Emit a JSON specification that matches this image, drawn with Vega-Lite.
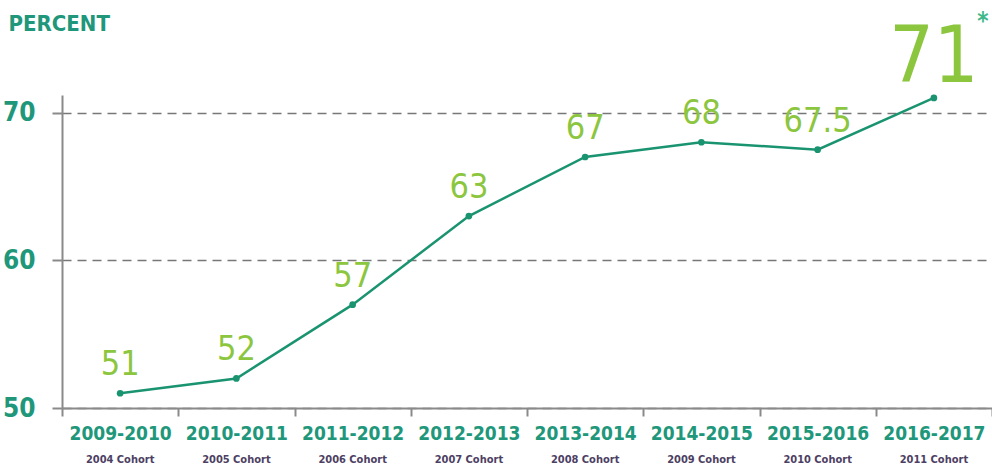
{
  "$schema": "https://vega.github.io/schema/vega-lite/v6.json",
  "width": 930,
  "height": 313,
  "autosize": {"type": "none"},
  "padding": {"left": 62, "top": 95, "right": 0, "bottom": 61},
  "background": "white",
  "config": {
    "view": {"stroke": null},
    "font": "DejaVu Sans Condensed, Roboto Condensed, Roboto, sans-serif"
  },
  "data": {
    "values": [
      {"key": "2009-2010|2004 Cohort", "value": 51},
      {"key": "2010-2011|2005 Cohort", "value": 52},
      {"key": "2011-2012|2006 Cohort", "value": 57},
      {"key": "2012-2013|2007 Cohort", "value": 63},
      {"key": "2013-2014|2008 Cohort", "value": 67},
      {"key": "2014-2015|2009 Cohort", "value": 68},
      {"key": "2015-2016|2010 Cohort", "value": 67.5},
      {"key": "2016-2017|2011 Cohort", "value": 71}
    ]
  },
  "resolve": {"axis": {"x": "independent"}},
  "layer": [
    {
      "mark": {"type": "line", "color": "#1a9470", "strokeWidth": 2.5, "point": {"filled": true, "size": 45, "color": "#1a9470"}},
      "encoding": {
        "x": {
          "field": "key", "type": "nominal", "sort": null,
          "scale": {"paddingInner": 0, "paddingOuter": 0},
          "axis": {
            "orient": "bottom",
            "title": null,
            "labelExpr": "split(datum.label, '|')[0]",
            "labelAngle": 0,
            "labelFont": "DejaVu Sans Condensed, Roboto Condensed, Roboto, sans-serif",
            "labelFontWeight": "bold",
            "labelFontSize": 19,
            "labelColor": "#20977a",
            "labelPadding": 8,
            "domainColor": "#8a8a8a",
            "domainWidth": 2,
            "tickBand": "extent",
            "tickColor": "#8a8a8a",
            "tickWidth": 2,
            "tickSize": 8
          }
        },
        "y": {
          "field": "value", "type": "quantitative",
          "scale": {"domain": [50, 71.2], "nice": false, "zero": false},
          "axis": {
            "values": [50, 60, 70],
            "title": "PERCENT",
            "titleAngle": 0,
            "titleAlign": "left",
            "titleBaseline": "alphabetic",
            "titleX": -54,
            "titleY": -65,
            "titleFont": "DejaVu Sans Condensed, Roboto Condensed, Roboto, sans-serif",
            "titleFontWeight": "bold",
            "titleFontSize": 22,
            "titleColor": "#20977a",
            "labelFont": "DejaVu Sans Condensed, Roboto Condensed, Roboto, sans-serif",
            "labelFontWeight": "bold",
            "labelFontSize": 26,
            "labelColor": "#20977a",
            "labelPadding": 17,
            "domainColor": "#8a8a8a",
            "domainWidth": 2,
            "tickColor": "#8a8a8a",
            "tickWidth": 2,
            "tickSize": 10,
            "grid": true,
            "gridColor": "#777777",
            "gridDash": [9, 6],
            "gridWidth": 1.5
          }
        }
      }
    },
    {
      "transform": [{"filter": "datum.value < 71"}],
      "mark": {"type": "text", "font": "DejaVu Sans Condensed, Roboto Condensed, Roboto, sans-serif", "fontSize": 34, "color": "#8cc63f", "baseline": "alphabetic", "dy": -18},
      "encoding": {
        "x": {
          "field": "key", "type": "nominal", "sort": null,
          "axis": {
            "orient": "bottom",
            "title": null,
            "labelExpr": "split(datum.label, '|')[1]",
            "labelAngle": 0,
            "labelFont": "DejaVu Sans Condensed, Roboto Condensed, Roboto, sans-serif",
            "labelFontWeight": "bold",
            "labelFontSize": 11,
            "labelColor": "#4d3f63",
            "labelPadding": 45,
            "domain": false,
            "ticks": false
          }
        },
        "y": {"field": "value", "type": "quantitative"},
        "text": {"field": "value", "type": "quantitative"}
      }
    },
    {
      "transform": [{"filter": "datum.value >= 71"}],
      "mark": {"type": "text", "font": "DejaVu Sans Condensed, Roboto Condensed, Roboto, sans-serif", "fontSize": 78, "color": "#8cc63f", "baseline": "alphabetic", "dy": -16},
      "encoding": {
        "x": {"field": "key", "type": "nominal", "sort": null, "axis": null},
        "y": {"field": "value", "type": "quantitative"},
        "text": {"field": "value", "type": "quantitative"}
      }
    },
    {
      "transform": [{"filter": "datum.value >= 71"}],
      "mark": {"type": "text", "font": "DejaVu Sans Condensed, Roboto Condensed, Roboto, sans-serif", "fontSize": 24, "fontWeight": "bold", "color": "#3fb88a", "baseline": "top", "dx": 49, "dy": -88, "text": "*"},
      "encoding": {
        "x": {"field": "key", "type": "nominal", "sort": null, "axis": null},
        "y": {"field": "value", "type": "quantitative"}
      }
    }
  ]
}
